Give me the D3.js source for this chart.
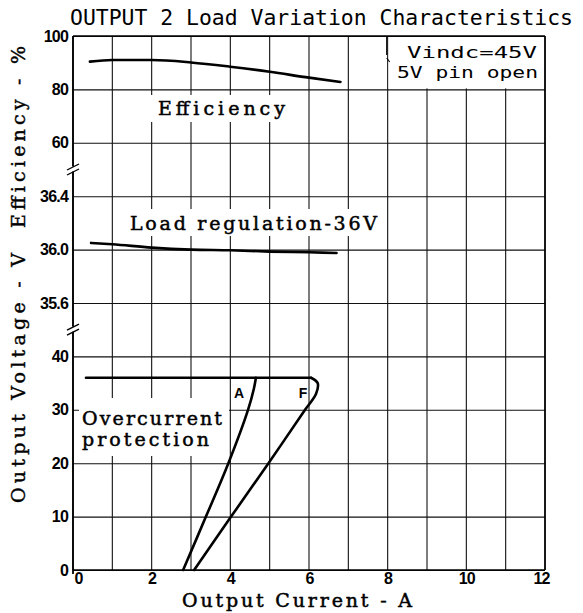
<!DOCTYPE html>
<html>
<head>
<meta charset="utf-8">
<script src="https://cdn.jsdelivr.net/npm/d3@7/dist/d3.min.js"></script>
<style>
html,body{margin:0;padding:0;background:#fff;}
svg{display:block;}
</style>
</head>
<body>
<svg id="chart" width="583" height="613"></svg>
<script>
// ---------- data ----------
const currentTicks = [0, 2, 4, 6, 8, 10, 12];
const currentGrid = [0,1,2,3,4,5,6,7,8,9,10,11,12];
const effTicks = [100, 80, 60];
const regTicks = [36.4, 36.0, 35.6];
const ocpTicks = [40, 30, 20, 10, 0];

const effCurrent = [0.43, 1, 2, 3, 4, 5, 6, 6.8];
const effValue   = [90.4, 91.0, 91.0, 90.1, 88.5, 86.6, 84.4, 82.8];

const regCurrent = [0.46, 1, 2, 3, 4, 5, 6, 6.7];
const regValue   = [36.05, 36.04, 36.015, 36.0, 35.995, 35.985, 35.98, 35.975];

const limitCurrent = [0.33, 6.05];
const limitValue   = [36, 36];

const protACurrent = [2.8, 3.38, 3.95, 4.45, 4.6, 4.65];
const protAValue   = [0, 10, 20, 30, 34, 36];

const protFCurrent = [3.08, 4.02, 4.97, 5.9, 6.18, 6.22, 6.05];
const protFValue   = [0, 10, 20, 30, 33, 35, 36];

// ---------- layout ----------
const svg = d3.select("#chart");
const L = 73, R = 545, T = 36, B = 570;
const row = (B - T) / 10;

const x = d3.scaleLinear().domain([0, 12]).range([L, R]);
const effY = d3.scaleLinear().domain([60, 100]).range([T + 2*row, T]);
const regY = d3.scaleLinear().domain([35.6, 36.4]).range([T + 5*row, T + 3*row]);
const ocpY = d3.scaleLinear().domain([0, 40]).range([B, T + 6*row]);

const tickFont = "'Liberation Sans', Arial, sans-serif";
const serifFont = "'DejaVu Serif', 'Liberation Serif', serif";
const monoSans = "'DejaVu Sans Mono', monospace";

// ---------- horizontal grid + y labels via axes ----------
function yAxis(scale, ticks, fmt) {
  const g = svg.append("g").attr("transform", `translate(${L},0)`)
    .call(d3.axisLeft(scale).tickValues(ticks).tickSize(-(R - L)).tickPadding(5).tickFormat(fmt));
  g.select(".domain").remove();
  g.selectAll(".tick line").attr("stroke", "#111").attr("stroke-width", 1.1);
  g.selectAll(".tick text")
    .attr("font-family", tickFont).attr("font-weight", "bold")
    .attr("font-size", 16).attr("letter-spacing", -0.8).attr("fill", "#000");
  return g;
}
yAxis(effY, effTicks, d3.format("d"));
yAxis(regY, regTicks, d3.format(".1f"));
yAxis(ocpY, ocpTicks, d3.format("d"));

// ---------- vertical grid ----------
svg.append("g").selectAll("line").data(currentGrid).join("line")
  .attr("x1", d => x(d)).attr("x2", d => x(d))
  .attr("y1", T).attr("y2", B)
  .attr("stroke", "#111").attr("stroke-width", 1.1);

// ---------- x axis labels ----------
const xg = svg.append("g").attr("transform", `translate(0,${B})`)
  .call(d3.axisBottom(x).tickValues(currentTicks).tickSize(0).tickPadding(3).tickFormat(d3.format("d")));
xg.select(".domain").remove();
xg.selectAll(".tick text")
  .attr("font-family", tickFont).attr("font-weight", "bold")
  .attr("font-size", 16).attr("letter-spacing", -0.8).attr("fill", "#000")
  .attr("dx", d => d === 0 ? 5 : (d === 12 ? -4 : 0));

// ---------- frame ----------
svg.append("line").attr("x1", L).attr("x2", L).attr("y1", T).attr("y2", B + 4)
  .attr("stroke", "#000").attr("stroke-width", 1.8);
svg.append("line").attr("x1", R).attr("x2", R).attr("y1", T).attr("y2", B)
  .attr("stroke", "#000").attr("stroke-width", 1.6);
svg.append("line").attr("x1", L).attr("x2", R).attr("y1", B).attr("y2", B)
  .attr("stroke", "#000").attr("stroke-width", 1.6);
svg.append("line").attr("x1", L).attr("x2", R).attr("y1", T).attr("y2", T)
  .attr("stroke", "#000").attr("stroke-width", 1.4);

// ---------- axis break marks ----------
function breakMark(yc) {
  svg.append("rect").attr("x", L - 2).attr("y", yc - 3).attr("width", 4).attr("height", 5).attr("fill", "#fff");
  [-2.5, 2.5].forEach(o => {
    svg.append("line").attr("x1", L - 6).attr("y1", yc + o + 3).attr("x2", L + 6).attr("y2", yc + o - 3)
      .attr("stroke", "#000").attr("stroke-width", 1.3);
  });
}
breakMark(T + 2.5*row);
breakMark(T + 5.5*row);

// ---------- label backgrounds ----------
function whiteBox(x0, y0, w, h) {
  svg.append("rect").attr("x", x0).attr("y", y0).attr("width", w).attr("height", h).attr("fill", "#fff");
}
whiteBox(148, 95, 143, 27);
whiteBox(125, 209, 256, 27);
whiteBox(79, 398, 150, 58);
whiteBox(x(8) + 1, T + 1, R - x(8) - 2, row - 2);
svg.append("line").attr("x1", x(8) - 1).attr("x2", x(8) - 1).attr("y1", T).attr("y2", T + 19)
  .attr("stroke", "#000").attr("stroke-width", 1.1);
svg.append("line").attr("x1", x(8) - 1).attr("x2", x(8) + 2).attr("y1", T + 22).attr("y2", T + 26)
  .attr("stroke", "#000").attr("stroke-width", 1.1);

// ---------- data lines ----------
const lineStyle = sel => sel.attr("fill", "none").attr("stroke", "#000")
  .attr("stroke-width", 2.6).attr("stroke-linecap", "round").attr("stroke-linejoin", "round");

function drawSeries(xs, ys, yScale, curve) {
  const pts = xs.map((c, i) => [c, ys[i]]);
  const gen = d3.line().x(d => x(d[0])).y(d => yScale(d[1])).curve(curve);
  svg.append("path").attr("d", gen(pts)).call(lineStyle);
}
drawSeries(effCurrent, effValue, effY, d3.curveMonotoneX);
drawSeries(regCurrent, regValue, regY, d3.curveMonotoneX);
drawSeries(limitCurrent, limitValue, ocpY, d3.curveLinear);
drawSeries(protACurrent, protAValue, ocpY, d3.curveCatmullRom);
drawSeries(protFCurrent, protFValue, ocpY, d3.curveCatmullRom);

// ---------- texts ----------
function txt(s, xx, yy, opts) {
  const t = svg.append("text").attr("x", xx).attr("y", yy).text(s)
    .attr("font-family", opts.family || serifFont)
    .attr("font-size", opts.size || 19)
    .attr("font-weight", opts.weight || "normal")
    .attr("fill", "#000");
  if (opts.stroke) t.attr("stroke", "#000").attr("stroke-width", opts.stroke);
  if (opts.len) t.attr("textLength", opts.len).attr("lengthAdjust", opts.adjust || "spacing");
  if (opts.anchor) t.attr("text-anchor", opts.anchor);
  if (opts.transform) t.attr("transform", opts.transform);
  return t;
}

txt("OUTPUT 2 Load Variation Characteristics", 70, 25, {family: monoSans, size: 21, len: 503, adjust: "spacingAndGlyphs"});
txt("Efficiency", 158, 115, {size: 19, len: 127, stroke: 0.5});
txt("Load regulation-36V", 130, 230, {size: 19, len: 247, stroke: 0.5});
txt("Overcurrent", 82, 425, {size: 19, len: 140, stroke: 0.5});
txt("protection", 82, 446, {size: 19, len: 127, stroke: 0.5});
txt("Output Current - A", 182, 607, {size: 19, len: 230, stroke: 0.5});
txt("Vindc=45V", 407, 58, {family: monoSans, size: 16, len: 130, adjust: "spacingAndGlyphs"});
txt("5V pin open", 397, 78, {family: monoSans, size: 16, len: 141, adjust: "spacingAndGlyphs"});
txt("A", 239, 398, {family: tickFont, size: 14, weight: "bold", anchor: "middle"});
txt("F", 303, 398, {family: tickFont, size: 14, weight: "bold", anchor: "middle"});

txt("Output Voltage - V", 0, 0, {size: 19, len: 250, stroke: 0.4, transform: "translate(25,503) rotate(-90)"});
txt("Efficiency - %", 0, 0, {size: 19, len: 182, stroke: 0.4, transform: "translate(25,228) rotate(-90)"});
</script>
</body>
</html>
